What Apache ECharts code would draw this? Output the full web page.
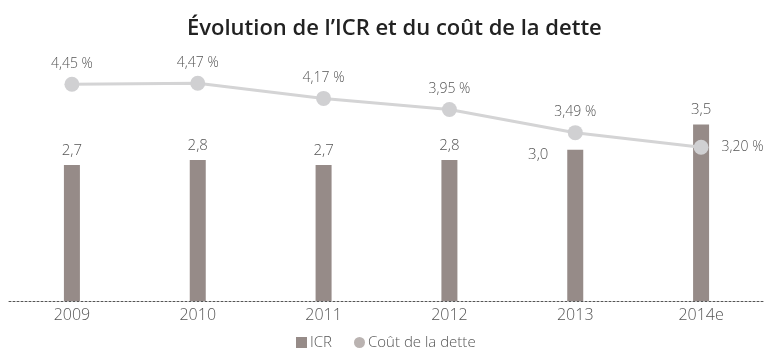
<!DOCTYPE html>
<html>
<head>
<meta charset="utf-8">
<script src="https://cdn.jsdelivr.net/npm/echarts@6/dist/echarts.min.js"></script>
<style>
  html, body { margin: 0; padding: 0; background: #fff; }
  #chart { width: 764px; height: 355px; }
</style>
</head>
<body>
<div id="chart"></div>
<script>
// Years on the horizontal axis
const years = ['2009', '2010', '2011', '2012', '2013', '2014e'];
// Interest coverage ratio (bars)
const icr = [2.7, 2.8, 2.7, 2.8, 3.0, 3.5];
// Average cost of debt, in % (line)
const coutDette = [4.45, 4.47, 4.17, 3.95, 3.49, 3.20];

const fmt = (v, d) => v.toFixed(d).replace('.', ',');
const FONT = '"Open Sans", Lato, sans-serif';
const TXT = '#555';

const chart = echarts.init(document.getElementById('chart'), null, { renderer: 'canvas' });

const barData = icr.map((v, i) => {
  const item = { value: v };
  if (i === 4) {
    // label placed beside the bar instead of above it
    item.label = { position: [-29, 5], align: 'center', verticalAlign: 'middle' };
  }
  return item;
});

const lineData = coutDette.map((v, i) => {
  const item = { value: v };
  if (i === coutDette.length - 1) {
    item.label = { position: 'right', distance: 13 };
  }
  return item;
});

chart.setOption({
  animation: false,
  title: {
    text: 'Évolution de l’ICR et du coût de la dette',
    left: 182,
    top: 13,
    textStyle: { fontFamily: FONT, fontWeight: 600, fontSize: 22, color: '#222' }
  },
  legend: {
    bottom: 0,
    left: 291,
    itemWidth: 11,
    itemHeight: 11,
    itemGap: 22,
    textStyle: { fontFamily: FONT, fontWeight: 300, fontSize: 15, color: TXT, padding: [0, 0, 0, -2] },
    data: [
      { name: 'ICR', icon: 'rect', itemStyle: { color: '#968b88' } },
      { name: 'Coût de la dette', icon: 'circle', itemStyle: { color: '#bab3b1' } }
    ]
  },
  grid: { left: 9, right: 0, top: 49, bottom: 54 },
  xAxis: {
    type: 'category',
    data: years,
    boundaryGap: true,
    axisLine: { lineStyle: { color: '#555', type: [2, 2], width: 1 } },
    axisTick: { show: false },
    axisLabel: { fontFamily: FONT, fontWeight: 300, fontSize: 16, color: TXT, margin: 6 }
  },
  yAxis: [
    { type: 'value', min: 0, max: 5, show: false, splitLine: { show: false } },
    { type: 'value', min: 0.15, max: 5.15, show: false, splitLine: { show: false } }
  ],
  series: [
    {
      name: 'ICR',
      type: 'bar',
      yAxisIndex: 0,
      barWidth: 16,
      itemStyle: { color: '#968b88' },
      label: {
        show: true,
        position: 'top',
        distance: 7,
        fontFamily: FONT,
        fontWeight: 300,
        fontSize: 15,
        color: TXT,
        formatter: p => fmt(p.value, 1)
      },
      data: barData
    },
    {
      name: 'Coût de la dette',
      type: 'line',
      yAxisIndex: 1,
      symbol: 'circle',
      symbolSize: 15,
      lineStyle: { color: '#d4d4d5', width: 3 },
      itemStyle: { color: '#d0d0d2' },
      label: {
        show: true,
        position: 'top',
        distance: 6,
        fontFamily: FONT,
        fontWeight: 300,
        fontSize: 14,
        color: TXT,
        formatter: p => fmt(p.value, 2) + ' %'
      },
      data: lineData,
      z: 3
    }
  ]
});
</script>
</body>
</html>
